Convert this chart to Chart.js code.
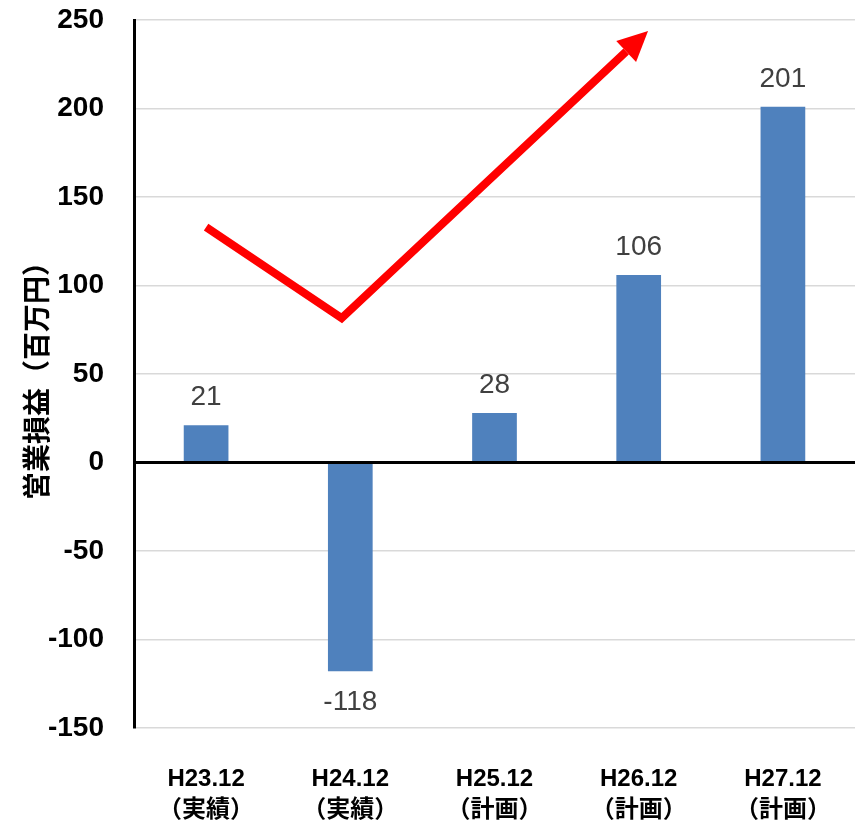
<!DOCTYPE html>
<html>
<head>
<meta charset="utf-8">
<script src="https://cdn.jsdelivr.net/npm/chart.js@4/dist/chart.umd.min.js"></script>
<style>
  html, body { margin: 0; padding: 0; background: #ffffff; }
  #wrap { width: 858px; height: 826px; position: relative; }
</style>
</head>
<body>
<div id="wrap"><canvas id="c" width="858" height="826"></canvas></div>
<script>
// Operating profit by fiscal period (million yen)
const periods = [['H23.12', '（実績）'], ['H24.12', '（実績）'], ['H25.12', '（計画）'], ['H26.12', '（計画）'], ['H27.12', '（計画）']];
const operatingProfit = [21, -118, 28, 106, 201];
const yTicks = [-150, -100, -50, 0, 50, 100, 150, 200, 250];

// Trend arrow path in data units (x = category index, y = value); last point is the base of the head
const trendX = [0, 0.94, 2.913];
const trendY = [133, 81.6, 232.2];

const LATIN = "'Liberation Sans', 'Noto Sans CJK JP', sans-serif";
const CJK = "'Noto Sans CJK JP', sans-serif";

// Value labels above positive bars and below negative bars
const valueLabels = {
  id: 'valueLabels',
  afterDatasetsDraw(chart) {
    const ctx = chart.ctx;
    const meta = chart.getDatasetMeta(0);
    ctx.save();
    ctx.font = '28px ' + LATIN;
    ctx.fillStyle = '#404040';
    ctx.textAlign = 'center';
    meta.data.forEach((bar, i) => {
      const v = operatingProfit[i];
      if (v >= 0) {
        ctx.textBaseline = 'alphabetic';
        ctx.fillText(String(v), bar.x, bar.y - 20);
      } else {
        ctx.textBaseline = 'top';
        ctx.fillText(String(v), bar.x, bar.y + 17);
      }
    });
    ctx.restore();
  }
};

// Arrow head at the end of the trend line
const arrowHead = {
  id: 'arrowHead',
  afterDatasetsDraw(chart) {
    const meta = chart.getDatasetMeta(1);
    const pts = meta.data;
    if (pts.length < 2) return;
    const a = pts[pts.length - 2], b = pts[pts.length - 1];
    const dx = b.x - a.x, dy = b.y - a.y;
    const len = Math.hypot(dx, dy);
    const ux = dx / len, uy = dy / len;
    const headLen = 30, halfW = 14.5;
    const tipX = b.x + ux * headLen, tipY = b.y + uy * headLen;
    const ctx = chart.ctx;
    ctx.save();
    ctx.fillStyle = '#FF0000';
    ctx.beginPath();
    ctx.moveTo(tipX, tipY);
    ctx.lineTo(b.x - uy * halfW, b.y + ux * halfW);
    ctx.lineTo(b.x + uy * halfW, b.y - ux * halfW);
    ctx.closePath();
    ctx.fill();
    ctx.restore();
  }
};

new Chart(document.getElementById('c'), {
  type: 'bar',
  data: {
    labels: periods,
    datasets: [
      {
        type: 'bar',
        data: operatingProfit,
        backgroundColor: '#4F81BD',
        borderWidth: 0,
        grouped: false,
        categoryPercentage: 1.0,
        barPercentage: 0.31,
        order: 2
      },
      {
        type: 'line',
        xAxisID: 'xl',
        data: trendX.map((x, i) => ({ x: x, y: trendY[i] })),
        borderColor: '#FF0000',
        borderWidth: 8,
        borderJoinStyle: 'miter',
        borderCapStyle: 'butt',
        pointRadius: 0,
        tension: 0,
        fill: false,
        order: 1
      }
    ]
  },
  options: {
    responsive: false,
    animation: false,
    devicePixelRatio: 1,
    layout: { padding: { left: 0, right: 3, top: 20, bottom: 0 } },
    plugins: {
      legend: { display: false },
      tooltip: { enabled: false }
    },
    scales: {
      x: {
        type: 'category',
        offset: true,
        grid: { display: false, drawTicks: false },
        border: { display: false },
        ticks: {
          color: '#000000',
          font: { family: LATIN, size: 24, weight: 'bold', lineHeight: 1.3 },
          padding: 36,
          maxRotation: 0,
          autoSkip: false
        },
        afterFit(scale) {
          scale.height = 98;
          scale.paddingLeft = 0;
          scale.paddingRight = 0;
        }
      },
      xl: {
        type: 'linear',
        display: false,
        offset: false,
        min: -0.5,
        max: 4.5
      },
      y: {
        type: 'linear',
        min: -150,
        max: 250,
        afterBuildTicks(scale) { scale.ticks = yTicks.map(v => ({ value: v })); },
        grid: {
          drawTicks: false,
          color: ctx => (ctx.tick && ctx.tick.value === 0 ? '#000000' : '#D9D9D9'),
          lineWidth: ctx => (ctx.tick && ctx.tick.value === 0 ? 3 : 1.5)
        },
        border: { display: true, color: '#000000', width: 3 },
        ticks: {
          color: '#000000',
          font: { family: LATIN, size: 28, weight: 'bold' },
          padding: 30
        },
        title: {
          display: true,
          text: '営業損益（百万円）',
          color: '#000000',
          font: { family: CJK, size: 28, weight: 'bold', lineHeight: 1.2 },
          padding: { top: 20, bottom: 0 }
        },
        afterFit(scale) {
          scale.width = 134;
          scale.paddingTop = 0;
          scale.paddingBottom = 0;
        }
      }
    }
  },
  plugins: [valueLabels, arrowHead]
});
</script>
</body>
</html>
